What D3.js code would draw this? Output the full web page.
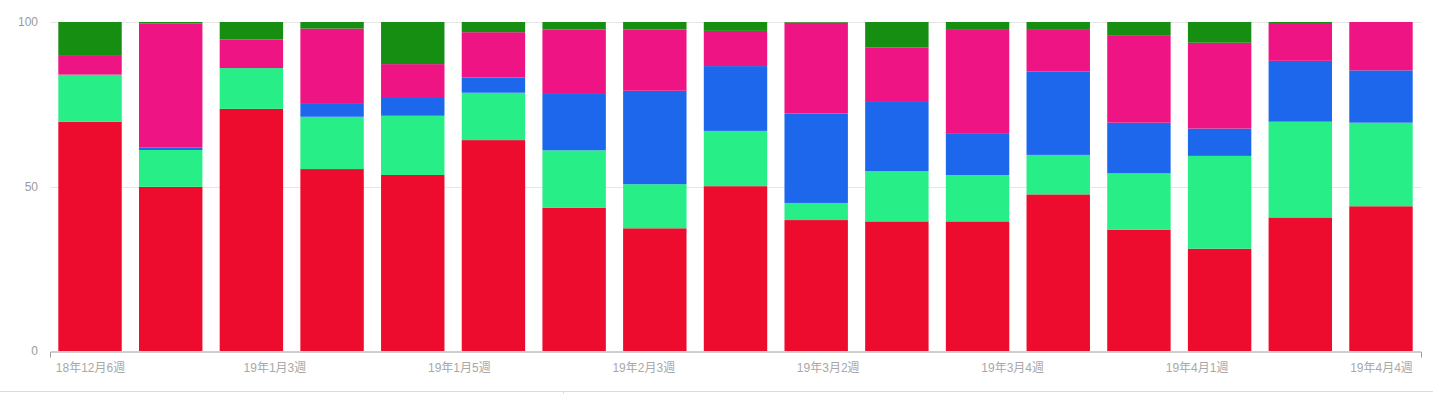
<!DOCTYPE html>
<html>
<head>
<meta charset="utf-8">
<script src="https://cdn.jsdelivr.net/npm/d3@7"></script>
<style>
  body { margin: 0; background: #fff; }
  svg { display: block; }
  .axis text { font-family: "Liberation Sans", Arial, "Noto Sans CJK JP", sans-serif; font-size: 12px; }
</style>
</head>
<body>
<svg id="chart"></svg>
<script>
// 17 weekly bars, share of each group in percent (bottom to top)
const weeks = d3.range(17);
const tickLabels = ['18年12月6週', '19年1月3週', '19年1月5週', '19年2月3週',
  '19年3月2週', '19年3月4週', '19年4月1週', '19年4月4週'];

const seriesNames = ['red', 'lightGreen', 'blue', 'pink', 'darkGreen'];
const red        = [69.7, 49.9, 73.6, 55.3, 53.5, 64.1, 43.5, 37.3, 50.1, 39.8, 39.4, 39.4, 47.6, 36.9, 31.1, 40.6, 44.0];
const lightGreen = [14.3, 11.2, 12.4, 15.9, 18.0, 14.4, 17.5, 13.4, 16.8,  5.2, 15.3, 14.1, 12.0, 17.1, 28.2, 29.1, 25.4];
const blue       = [ 0.0,  0.8,  0.0,  3.9,  5.4,  4.6, 17.4, 28.4, 19.7, 27.2, 21.0, 12.5, 25.3, 15.4,  8.3, 18.5, 15.9];
const pink       = [ 5.7, 37.6,  8.7, 22.9, 10.3, 13.8, 19.3, 18.6, 10.7, 27.6, 16.5, 31.6, 12.7, 26.4, 26.1, 11.5, 14.7];
const darkGreen  = [10.3,  0.5,  5.3,  2.0, 12.8,  3.1,  2.3,  2.3,  2.7,  0.2,  7.8,  2.4,  2.4,  4.2,  6.3,  0.3,  0.0];
const yTicks = [0, 50, 100];

const colors = {
  red: '#ed0c2e',
  lightGreen: '#27ee87',
  blue: '#1d67ec',
  pink: '#ee1483',
  darkGreen: '#168e11'
};

const width = 1440, height = 394;
const plot = {left: 50, right: 1421, top: 22, bottom: 351};

const svg = d3.select('#chart')
    .attr('width', width)
    .attr('height', height);

const table = weeks.map(i => ({
  week: i,
  red: red[i],
  lightGreen: lightGreen[i],
  blue: blue[i],
  pink: pink[i],
  darkGreen: darkGreen[i]
}));

const stacked = d3.stack().keys(seriesNames)(table);

const xScale = d3.scaleBand()
    .domain(weeks)
    .range([plot.left, plot.right])
    .paddingInner(0.214)
    .paddingOuter(0.103);

const yScale = d3.scaleLinear()
    .domain([0, 100])
    .range([plot.bottom, plot.top]);

// gridlines
svg.append('g')
  .selectAll('line')
  .data(yTicks.filter(d => d > 0))
  .join('line')
    .attr('x1', plot.left)
    .attr('x2', plot.right)
    .attr('y1', d => Math.round(yScale(d)) + 0.5)
    .attr('y2', d => Math.round(yScale(d)) + 0.5)
    .attr('stroke', '#e6e6e6');

// bars
svg.append('g')
  .selectAll('g')
  .data(stacked)
  .join('g')
    .attr('fill', d => colors[d.key])
  .selectAll('rect')
  .data(d => d)
  .join('rect')
    .attr('x', d => xScale(d.data.week))
    .attr('width', xScale.bandwidth())
    .attr('y', d => yScale(d[1]))
    .attr('height', d => yScale(d[0]) - yScale(d[1]));

// y labels
const yAxis = d3.axisLeft(yScale)
    .tickValues(yTicks)
    .tickSize(0)
    .tickPadding(12);

svg.append('g')
    .attr('class', 'axis')
    .attr('transform', `translate(${plot.left},0)`)
    .call(yAxis)
    .call(g => g.select('.domain').remove())
    .call(g => g.selectAll('text').attr('fill', '#9a9a9a'));

// x axis: labels spread evenly from first to last bar
const step = xScale.step();
const firstCenter = xScale(0) + xScale.bandwidth() / 2;
const idxAt = px => (px - firstCenter) / step;
const labelScale = d3.scaleLinear()
    .domain([idxAt(plot.left), idxAt(plot.right)])
    .range([plot.left, plot.right]);

const xAxis = d3.axisBottom(labelScale)
    .tickValues(tickLabels.map((d, j) => j * (weeks.length - 1) / (tickLabels.length - 1)))
    .tickFormat((d, j) => tickLabels[j])
    .tickSize(0)
    .tickSizeOuter(6)
    .tickPadding(12);

svg.append('g')
    .attr('class', 'axis')
    .attr('transform', `translate(0,${plot.bottom + 0.5})`)
    .call(xAxis)
    .call(g => g.select('.domain').attr('stroke', '#9e9e9e'))
    .call(g => g.selectAll('text').attr('fill', '#a8a8a8'));

// frame line at bottom
svg.append('line')
    .attr('x1', 0).attr('x2', 1433)
    .attr('y1', 391.5).attr('y2', 391.5)
    .attr('stroke', '#dcdcdc');
svg.append('line')
    .attr('x1', 563.5).attr('x2', 563.5)
    .attr('y1', 391).attr('y2', 394)
    .attr('stroke', '#dcdcdc');
</script>
</body>
</html>
